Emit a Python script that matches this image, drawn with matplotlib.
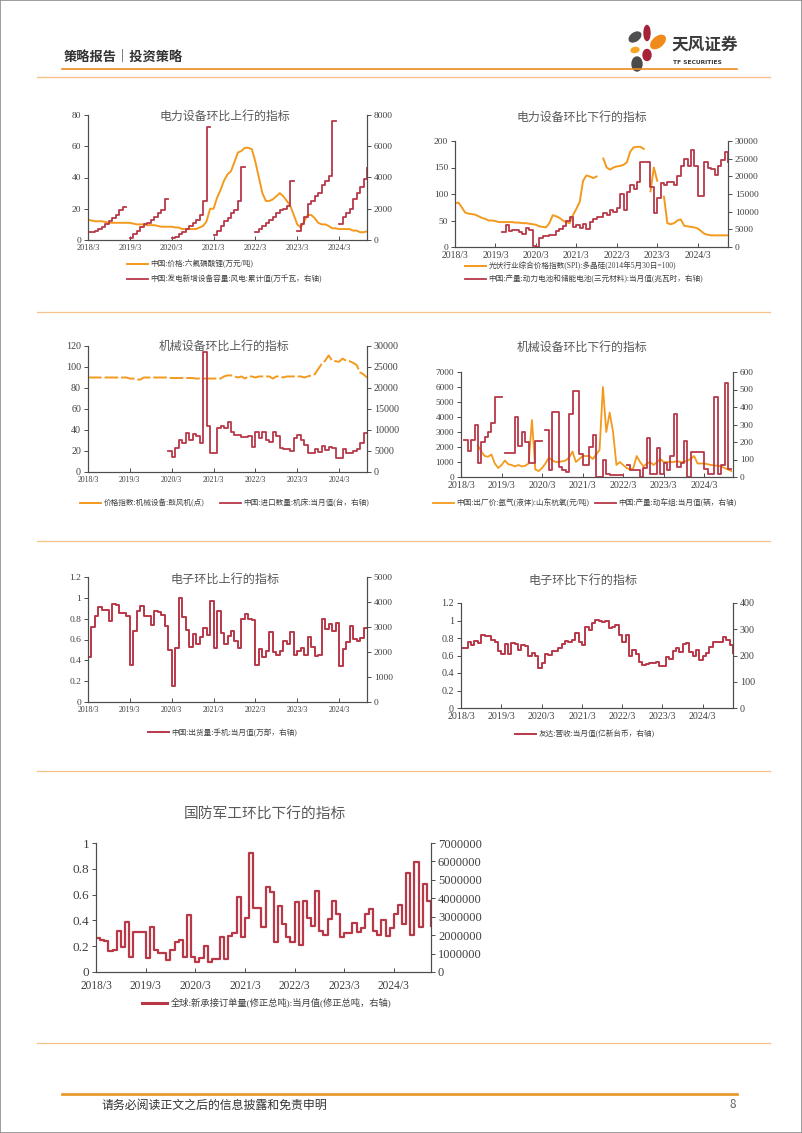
import numpy as np
import matplotlib
matplotlib.use('Agg')
import matplotlib.pyplot as plt
from matplotlib.lines import Line2D
from matplotlib.patches import Ellipse, Rectangle
from matplotlib.font_manager import FontProperties
from matplotlib.transforms import IdentityTransform

W, H = 802, 1133
nan = np.nan

# ---------------- data ----------------
x_labels = ['2018/3', '2019/3', '2020/3', '2021/3', '2022/3', '2023/3', '2024/3']

# 电力设备环比上行
lipf6_price = [13, 12.5, 12, 12, 12, 11.5, 11, 11, 11, 11, 11, 11, 11, 10.5, 10, 10, 10, 9.5, 9.5, 9.5,
               9, 8.5, 8.5, 8.5, 8.5, 8, 8, 7, 7, 7, 7, 7, 8, 9, 12, 20, 20, 27, 32, 38,
               42, 44, 50, 56, 57, 59, 59, 58, 50, 40, 30, 25, 25, 26, 28, 30, 28, 25, 22, 16,
               10, 8, 12, 16, 16, 14, 11, 10, 10, 9, 7.5, 7.5, 7, 7, 7, 7, 6, 6, 5, 5, 5.5]
wind_cum = [500, 500, 600, 700, 800, 1000, 1200, 1400, 1600, 1900, 2100, nan,
            100, 400, 600, 800, 1000, 1100, 1300, 1500, 1700, 1900, 2600, nan,
            100, 200, 400, 500, 700, 900, 1100, 1300, 1600, 2500, 7200, nan,
            300, 600, 900, 1200, 1400, 1700, 1900, 2500, 4700, nan, nan, nan,
            500, 700, 900, 1100, 1300, 1500, 1700, 1900, 2000, 2200, 3800, nan,
            600, 1000, 1500, 2300, 2500, 2800, 3000, 3500, 3800, 4100, 7600, nan,
            1000, 1500, 1700, 2000, 2600, 3000, 3400, 3900, 4600]

# 电力设备环比下行
spi_poly = [82, 84, 75, 65, 63, 62, 61, 58, 55, 53, 50, 50, 49, 47, 47, 47, 47, 47, 46, 46,
            45, 45, 44, 43, 42, 39, 38, 37, 45, 60, 58, 55, 50, 47, 45, 60, 72, 85, 125, 135,
            133, 130, 133, nan, 167, 150, 146, 150, 152, 153, 155, 160, 180, 188, 189, 189, 185, nan, 105, 150,
            125, nan, 95, 45, 43, 45, 50, 52, 40, 39, 38, 37, 35, 30, 25, 23, 22, 22, 22, 22,
            22, 22]
battery_ncm = [nan] * 14 + [4200, 6300, 4500, 4700, 4700, 4300, 3800, 5300, 4800, 200,
               0, 2500, 3000, 3000, 3300, 3300, 4500, 5000, 6000, 7500,
               8400, 5600, 6300, 5500, 6500, 5200, 7000, 7800, 8500, 8500,
               9500, 9000, 10500, 10000, 11000, 15000, 10500, 15500, 17500, 16500,
               18500, 24000, 24000, 24000, 17000, 9500, 14000, 18000, 17500, 18500,
               18500, 17500, 20000, 23000, 25000, 23000, 27500, 23000, 14500, 14500,
               24000, 22500, 22000, 20500, 23000, 24500, 27000, 24000]

# 机械设备环比上行
blower_idx = [90] * 12 + [89, 89, 88, 88, 90, 90, 90, 90, 90, 90,
              90, 90, 89.5, 89.5, 89.5, 89.5, 89.5, 89.5, 89.5,
              89, 89, 89, 89, 89, 89, 89, 89,
              91, 92, 92, 91, 90, 91, 89, 91, 91, 90, 91, 91, 91, 91, 89, 91, 91, 90, 91, 91, 91, 91, 91, 90, 91,
              92, 93, 98, 103, 106, 111, 106, 105.5, 105, 108, 106, 105.5, 104, 102, 95, 93, 90]
machine_import = [nan] * 23 + [5000, 3500, 5800, 7500, 7000, 9200, 7500, 9000, 8500, 7000,
                  28500, 11000, 4500, 4500, 10500, 11000, 10500, 11800, 9500, 8800,
                  8800, 8300, 8300, 8500, 6000, 9600, 8000, 9600, 7500, 7200,
                  9600, 8500, 5800, 5500, 5500, 5000, 8000, 8800, 7500, 6500,
                  4500, 4500, 5500, 4700, 6300, 5300, 6000, 5800, 3300, 3300,
                  5500, 4500, 4500, 5000, 5500, 7000, 9300, 9300]

# 机械设备环比下行
argon_price = [nan] * 5 + [2100, 1700, 1400, 1350, 1500, 900, 600, 800, 1100, 850,
               800, 700, 800, 700, 750, 900, 3800, 500, 400, 600,
               900, 1300, 1100, 1000, 1000, 1050, 1100, 1300, 1700, 1000,
               1200, 1400, 1400, 1400, 1200, 1500, 1800, 6000, 3000, 4300,
               3000, 800, 1000, 800, 600, 500, 600, 1400, 1000, 700,
               900, 1000, 800, 1000, 1200, 1000, 1000, 1000, 1000, 1050,
               1000, 1000, 1100, 1200, 1400, 900, 900, 900, 850, 800,
               780, 750, 700, 600, 500, 400]
emu_output = [nan, 210, 150, 210, 300, 80, 200, 230, 260, 310,
              460, 460, nan, 140, 140, 140, 345, 180, 260, 200,
              80, 80, 205, 205, nan, 270, 40, 370, 370, 60,
              40, 30, 360, 490, 490, 130, 70, 70, 170, 240,
              0, 0, 100, 20, 10, 10, 10, 10, nan, 70,
              40, 40, 40, 0, 50, 225, 20, 20, 165, 20,
              80, 40, 120, 360, 60, 80, 205, 0, 145, 145,
              145, 145, 45, 18, 18, 455, 15, 70, 535, 45, 45]

# 电子环比上行
phone_ship = [1790, 3000, 3420, 3790, 3670, 3670, 3250, 3920, 3880, 3540,
              3540, 3420, 1460, 2830, 3630, 3830, 3420, 3420, 3080, 3630,
              3580, 3460, 3040, 2080, 630, 2170, 4170, 3380, 2880, 2210,
              2710, 2330, 2580, 2960, 2670, 4040, 2170, 3630, 2750, 2330,
              2630, 2830, 2420, 2170, 3330, 3500, 3330, 3290, 1460, 2130,
              1790, 2040, 2790, 2000, 1880, 2040, 2420, 2330, 2790, 1880,
              2040, 2170, 1880, 2580, 2210, 1830, 1880, 3330, 2920, 3130,
              2830, 3170, 1420, 2130, 2380, 3040, 2500, 2420, 2540, 2960, 2960]

# 电子环比下行
auo_rev = [227, 227, 253, 240, 257, 247, 277, 273, 273, 260,
           253, 217, 207, 243, 207, 247, 243, 220, 240, 237,
           200, 210, 200, 153, 173, 207, 203, 217, 217, 230,
           243, 257, 253, 260, 287, 253, 240, 307, 297, 323,
           337, 333, 327, 330, 303, 307, 317, 277, 253, 280,
           200, 220, 207, 177, 163, 167, 170, 173, 177, 160,
           160, 193, 187, 217, 230, 213, 243, 247, 213, 200,
           220, 183, 197, 210, 233, 253, 253, 250, 270, 260,
           240, 210]

# 国防军工环比下行
ship_orders = [1820000, 1750000, 1680000, 1120000, 1190000, 2240000, 1330000, 2730000, 840000, 2170000,
               2170000, 2170000, 770000, 2450000, 1190000, 1050000, 1050000, 630000, 1190000, 1610000,
               1750000, 840000, 3080000, 840000, 560000, 770000, 1400000, 560000, 700000, 700000,
               1890000, 700000, 1960000, 2100000, 4060000, 1890000, 2940000, 6440000, 3500000, 3500000,
               2450000, 4620000, 4340000, 1610000, 3570000, 2590000, 1890000, 1610000, 3780000, 1470000,
               3850000, 2940000, 2520000, 4410000, 2240000, 2030000, 2870000, 3850000, 3150000, 1890000,
               2100000, 2100000, 2660000, 2170000, 2380000, 3150000, 3430000, 2240000, 2030000, 2800000,
               1960000, 2380000, 3150000, 3640000, 2590000, 5390000, 2030000, 5950000, 2450000, 4760000,
               3850000, 2520000]

# ---------------- style ----------------
ORANGE = '#F39A1E'
RED = '#B83848'
SPINE = '#4d4d4d'
TXT = '#404040'
SERIF = ['Liberation Serif', 'Noto Sans CJK SC']
CJK = ['Noto Sans CJK SC', 'DejaVu Sans']

plt.rcParams['font.family'] = SERIF

fig = plt.figure(figsize=(W / 100, H / 100), dpi=100)


def fx(x):
    return x / W


def fy(y):
    return 1 - y / H


def make_axes(l, t, r, b):
    ax = fig.add_axes([fx(l), fy(b), (r - l) / W, (b - t) / H])
    ax2 = ax.twinx()
    return ax, ax2


def style(ax, ax2, xmax, lt, ll, rt, rl, fsy, fsx, fsy2=None, xpad=3):
    ax.set_xlim(0, xmax)
    ax.set_ylim(lt[0], lt[-1])
    ax.set_yticks(lt)
    ax.set_yticklabels(ll)
    ax2.set_ylim(rt[0], rt[-1])
    ax2.set_yticks(rt)
    ax2.set_yticklabels(rl)
    ax.set_xticks(np.arange(0, 73, 12))
    ax.set_xticklabels(x_labels)
    for a in (ax, ax2):
        a.spines['top'].set_visible(False)
        for s in a.spines.values():
            s.set_color(SPINE)
            s.set_linewidth(0.8)
        a.patch.set_visible(False)
    ax.tick_params(axis='y', direction='out', length=3, width=0.7, color=SPINE,
                   labelsize=fsy, labelcolor=TXT, pad=2)
    ax.tick_params(axis='x', direction='in', length=3, width=0.7, color=SPINE,
                   labelsize=fsx, labelcolor=TXT, pad=xpad)
    ax2.tick_params(axis='y', direction='out', length=3, width=0.7, color=SPINE,
                    labelsize=fsy2 or fsy, labelcolor=TXT, pad=2)


def title(text, x, y, fs):
    fig.text(fx(x), fy(y), text, ha='center', va='center', fontsize=fs,
             color='#595959', family=CJK)


def leg(handle, label, x, y, fs, hl=21):
    fs_px = fs * 100 / 72
    fig.legend([handle], [label], loc='center left', bbox_to_anchor=(fx(x), fy(y)),
               frameon=False, borderpad=0, borderaxespad=0,
               handlelength=hl / fs_px, handletextpad=0.35,
               prop=FontProperties(family=SERIF, size=fs), labelcolor=TXT)


def idx(v):
    return np.arange(len(v))


# ---------- chart 1 ----------
ax, ax2 = make_axes(88, 115, 367, 240)
l1, = ax.plot(idx(lipf6_price), lipf6_price, color=ORANGE, lw=1.4, zorder=3)
l2, = ax2.plot(idx(wind_cum), wind_cum, color=RED, lw=1.3, drawstyle='steps-post')
style(ax, ax2, 80, [0, 20, 40, 60, 80], ['0', '20', '40', '60', '80'],
      [0, 2000, 4000, 6000, 8000], ['0', '2000', '4000', '6000', '8000'], 6.8, 6.0)
title('电力设备环比上行的指标', 225, 116, 8.6)
leg(l1, '中国:价格:六氟磷酸锂(万元/吨)', 127, 264, 5.5)
leg(l2, '中国:发电新增设备容量:风电:累计值(万千瓦，右轴)', 127, 279, 5.5)

# ---------- chart 2 ----------
ax, ax2 = make_axes(455, 141, 728, 247)
l1, = ax.plot(idx(spi_poly), spi_poly, color=ORANGE, lw=1.4, zorder=3)
l2, = ax2.plot(idx(battery_ncm), battery_ncm, color=RED, lw=1.3, drawstyle='steps-post')
style(ax, ax2, 81, [0, 50, 100, 150, 200], ['0', '50', '100', '150', '200'],
      list(range(0, 30001, 5000)), [str(v) for v in range(0, 30001, 5000)], 6.8, 6.9)
title('电力设备环比下行的指标', 582, 117, 8.6)
leg(l1, '光伏行业综合价格指数(SPI):多晶硅(2014年5月30日=100)', 465, 266, 5.5)
leg(l2, '中国:产量:动力电池和储能电池(三元材料):当月值(兆瓦时，右轴)', 465, 279, 5.5)

# ---------- chart 3 ----------
ax, ax2 = make_axes(88, 346, 367, 472)
l1, = ax.plot(idx(blower_idx), blower_idx, color=ORANGE, lw=1.4, ls=(0, (7, 1.5)), zorder=3)
l2, = ax2.plot(idx(machine_import), machine_import, color=RED, lw=1.3, drawstyle='steps-post')
style(ax, ax2, 80, list(range(0, 121, 20)), [str(v) for v in range(0, 121, 20)],
      list(range(0, 30001, 5000)), [str(v) for v in range(0, 30001, 5000)], 7.2, 5.6)
title('机械设备环比上行的指标', 224, 346, 8.6)
l1leg = Line2D([], [], color=ORANGE, lw=1.4)
leg(l1leg, '价格指数:机械设备:鼓风机(点)', 80, 503, 5.5)
leg(l2, '中国:进口数量:机床:当月值(台，右轴)', 220, 503, 5.5)

# ---------- chart 4 ----------
ax, ax2 = make_axes(461, 372, 733, 477)
l1, = ax.plot(idx(argon_price), argon_price, color=ORANGE, lw=1.3, zorder=3)
l2, = ax2.plot(idx(emu_output), emu_output, color=RED, lw=1.3, drawstyle='steps-post')
style(ax, ax2, 80.5, list(range(0, 7001, 1000)), [str(v) for v in range(0, 7001, 1000)],
      list(range(0, 601, 100)), [str(v) for v in range(0, 601, 100)], 6.7, 7.2)
title('机械设备环比下行的指标', 582, 347, 8.6)
leg(l1, '中国:出厂价:氩气(液体):山东杭氧(元/吨)', 433, 503, 5.5)
leg(l2, '中国:产量:动车组:当月值(辆，右轴)', 595, 503, 5.5)

# ---------- chart 5 ----------
ax, ax2 = make_axes(88, 577, 367, 702)
l2, = ax2.plot(idx(phone_ship), phone_ship, color=RED, lw=1.4, drawstyle='steps-post')
style(ax, ax2, 80, [0, 0.2, 0.4, 0.6, 0.8, 1.0, 1.2], ['0', '0.2', '0.4', '0.6', '0.8', '1', '1.2'],
      list(range(0, 5001, 1000)), [str(v) for v in range(0, 5001, 1000)], 6.8, 5.6)
title('电子环比上行的指标', 225, 579, 8.7)
leg(l2, '中国:出货量:手机:当月值(万部，右轴)', 148, 733, 5.5)

# ---------- chart 6 ----------
ax, ax2 = make_axes(461, 603, 733, 708)
l2, = ax2.plot(idx(auo_rev), auo_rev, color=RED, lw=1.4, drawstyle='steps-post')
style(ax, ax2, 81, [0, 0.2, 0.4, 0.6, 0.8, 1.0, 1.2], ['0', '0.2', '0.4', '0.6', '0.8', '1', '1.2'],
      [0, 100, 200, 300, 400], ['0', '100', '200', '300', '400'], 7.2, 7.2)
title('电子环比下行的指标', 583, 580, 8.7)
leg(l2, '友达:营收:当月值(亿新台币，右轴)', 515, 734, 5.5)

# ---------- chart 7 ----------
ax, ax2 = make_axes(96, 843, 431, 972)
l2, = ax2.plot(idx(ship_orders), ship_orders, color=RED, lw=1.6, drawstyle='steps-post')
style(ax, ax2, 81, [0, 0.2, 0.4, 0.6, 0.8, 1.0], ['0', '0.2', '0.4', '0.6', '0.8', '1'],
      list(range(0, 7000001, 1000000)), [str(v) for v in range(0, 7000001, 1000000)],
      9.5, 8.3, 9.0, xpad=6)
title('国防军工环比下行的指标', 265, 815, 10.6)
l7leg = Line2D([], [], color=RED, lw=2.2)
leg(l7leg, '全球:新承接订单量(修正总吨):当月值(修正总吨，右轴)', 142, 1003, 6.7, hl=25)

# ---------------- page decoration ----------------
def hline(x0, x1, y, color, lw):
    fig.add_artist(Line2D([fx(x0), fx(x1)], [fy(y), fy(y)], color=color, lw=lw,
                          transform=fig.transFigure))


hline(62, 737, 69, '#EE8A22', 1.2)
hline(37, 770, 77, '#F6C28A', 1.0)
for yy in (312, 541, 771, 1043):
    hline(37, 770, yy, '#F6C28A', 0.9)
hline(62, 737, 1094, '#E89A2E', 2.0)

fig.text(fx(64), fy(57), '策略报告｜投资策略', ha='left', va='center', fontsize=9.5,
         color='#333333', family=CJK, weight='bold')
fig.text(fx(102), fy(1105), '请务必阅读正文之后的信息披露和免责申明', ha='left', va='center',
         fontsize=8.6, color='#333333', family=CJK)
fig.text(fx(736), fy(1105), '8', ha='right', va='center', fontsize=8.5, color='#666666',
         family=CJK)

# logo (pixel coordinates, y measured from top)
petals = [((635, 37), 13, 8, 35, '#4f4f4f'),
          ((647, 33), 6, 15, 0, '#A52238'),
          ((658, 42), 17, 10, 40, '#F08A1C'),
          ((635, 50), 8, 5, 10, '#F5A623'),
          ((647, 55), 8, 11, 0, '#A52238'),
          ((637, 64), 10, 14, 0, '#4a4a4a')]
for (cx, cy), w, h, ang, c in petals:
    fig.add_artist(Ellipse((cx, H - cy), w, h, angle=ang, color=c,
                           transform=IdentityTransform()))
fig.text(fx(671), fy(45), '天风证券', ha='left', va='center', fontsize=12, weight='bold',
         color='#3a3a3a', family=CJK)
fig.text(fx(673), fy(63), 'TF SECURITIES', ha='left', va='center', fontsize=4.3,
         weight='bold', color='#3a3a3a', family=['DejaVu Sans'])

fig.add_artist(Rectangle((0, 0), 1, 1, fill=False, edgecolor='#8c8c8c', lw=1.2,
                         transform=fig.transFigure))

fig.savefig('out.png', dpi=100)
